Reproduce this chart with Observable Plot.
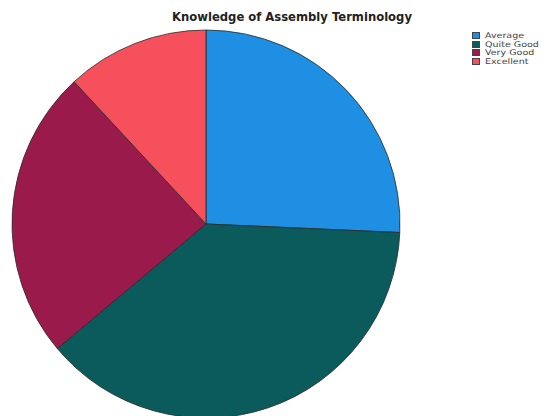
<!DOCTYPE html>
<html>
<head>
<meta charset="utf-8">
<script src="https://cdn.jsdelivr.net/npm/d3@7"></script>
<script src="https://cdn.jsdelivr.net/npm/@observablehq/plot@0.6"></script>
<style>
  html, body { margin: 0; padding: 0; background: #fff; }
  #wrap { position: relative; width: 542px; height: 416px; overflow: hidden; }
  #title { position: absolute; left: 0; width: 584px; top: 10px; text-align: center; white-space: nowrap;
    font: bold 11.6px "DejaVu Sans", sans-serif; color: #222; }
  #legend { position: absolute; left: 472px; top: 31px; font: 7.8px "DejaVu Sans", sans-serif; color: #444; white-space: nowrap; }
  .row { display: flex; align-items: center; height: 8.7px; }
  .row span { display: inline-block; transform: scaleX(1.22); transform-origin: left center; }
  .sw { width: 8px; height: 7px; margin-right: 5px; box-sizing: border-box; border: 0.5px solid #444; flex: none; }
</style>
</head>
<body>
<div id="wrap">
  <div id="chart"></div>
  <div id="title">Knowledge of Assembly Terminology</div>
  <div id="legend"></div>
</div>
<script>
const categories = ["Average", "Quite Good", "Very Good", "Excellent"];
const shares = [25.7, 38.2, 24.2, 11.9];
const colors = ["#1e8fe3", "#0b5a5c", "#9a1a4c", "#f5505c"];

const data = categories.map((c, i) => ({category: c, value: shares[i]}));
const color = Plot.scale({color: {type: "ordinal", domain: categories, range: colors}});

function pieMark(rows, {cx, cy, r}) {
  return (index, scales, values, dims) => {
    const g = d3.create("svg:g").attr("transform", `translate(${cx},${cy})`);
    const arcs = d3.pie().sort(null).value(d => d.value)(rows);
    const arc = d3.arc().innerRadius(0).outerRadius(r);
    g.selectAll("path").data(arcs).join("path")
      .attr("d", arc)
      .attr("fill", d => color.apply(d.data.category))
      .attr("stroke", "#2a2a2a")
      .attr("stroke-width", 0.8)
      .attr("stroke-linejoin", "round");
    return g.node();
  };
}

const plot = Plot.plot({
  width: 542,
  height: 416,
  margin: 0,
  x: {axis: null},
  y: {axis: null},
  marks: [pieMark(data, {cx: 206, cy: 224, r: 194})]
});
document.getElementById("chart").appendChild(plot);

const leg = document.getElementById("legend");
categories.forEach((c) => {
  const row = document.createElement("div");
  row.className = "row";
  const sw = document.createElement("div");
  sw.className = "sw";
  sw.style.background = color.apply(c);
  const t = document.createElement("span");
  t.textContent = c;
  row.appendChild(sw);
  row.appendChild(t);
  leg.appendChild(row);
});
</script>
</body>
</html>
